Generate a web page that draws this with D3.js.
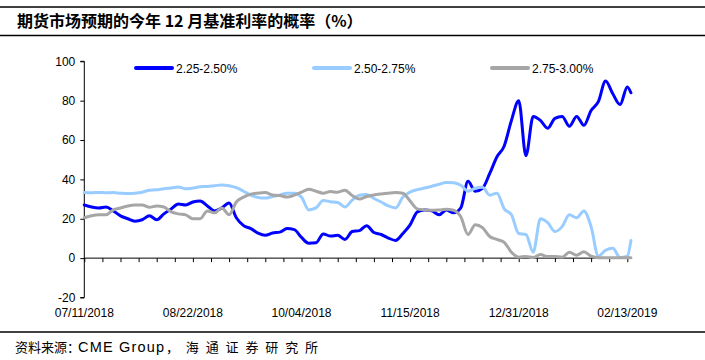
<!DOCTYPE html>
<html><head><meta charset="utf-8">
<script src="https://cdn.jsdelivr.net/npm/d3@7"></script>
<style>
html,body{margin:0;padding:0;background:#fff;}
svg{display:block;}
text{font-family:"Liberation Sans",Arial,sans-serif;}
.cjk{font-family:"Noto Sans CJK SC","Liberation Sans",sans-serif;}
</style></head>
<body>
<svg id="chart" width="705" height="360"></svg>
<script>
// ---- data ----
const title = "期货市场预期的今年 12 月基准利率的概率（%）";
const sourceParts = ["资料来源：", "CME Group", "，海通证券研究所"];
const seriesNames = ["2.25-2.50%", "2.50-2.75%", "2.75-3.00%"];
const xLabels = ["07/11/2018","08/22/2018","10/04/2018","11/15/2018","12/31/2018","02/13/2019"];
const labelEvery = 30;   // trading days between date labels
const tickEvery = 5;     // trading days between tick marks
const lastDay = 151;     // index of last trading day
const sampleStep = 2;    // values sampled every 2 trading days
const yTicks = [-20, 0, 20, 40, 60, 80, 100];

const p225 = [27,26,25.5,26,24,21.5,20,18.8,19.5,21.5,
  19.5,22.5,25,27.5,27,28.5,29,26.5,24,25.5,
  28,20.5,16.5,15,12.7,11.6,12.8,13.2,15,14.5,
  10.5,7.6,7.8,12.3,11.2,11.6,9.5,13.5,14,16.5,
  13,12,10.2,9,12.5,16.9,23.5,24.5,24,22,
  24.5,23,25.5,39,34,35.5,43,51.5,57,70,
  80,52,72,70,66,71,72,67,72,67.5,
  75,79.5,90,83.5,78,87,84];
const p250 = [33.3,33.2,33.4,33.2,33.3,33,32.8,33,33.5,34.5,
  34.7,35.3,35.6,36.2,35.2,35.6,36.3,36.4,36.8,37.2,
  36.8,35.8,34,32,30.8,30.5,31.3,32,33,33,
  31,24.5,25.5,29.3,28.7,28.3,26,29.5,32,32.3,
  30.3,28.5,26.5,25.5,31,33.6,34.8,35.6,36.5,37.5,
  38.4,38.3,37,34,35.5,36,32,33,25,22,
  12.5,12,3,20,18,13.5,16,22,20.5,24,
  16,1,4,5,0.3,1,9];
const p275 = [20.5,21.5,22,22,24.5,25.5,26.5,27,27,25.8,
  26.5,26,23.5,22.5,22,20,20,24,23,25.5,
  22,28.5,31,32.5,33,33.3,32.1,31.8,31,32,
  33.5,35,34,33,33.8,33.5,34.5,31.8,30,31.3,
  32.1,32.6,33,33.3,33,29,25,24.5,24.3,24.5,
  24.8,24.3,21,12,17,15.5,11,9.5,8,3,
  0.5,0.8,0.3,1.8,0.8,0.8,0.5,3,1.5,3.2,
  1,0.2,0.2,0.2,0.2,0.2,0.2];

const colors = ["#0000FF", "#99CCFF", "#A6A6A6"];
const allSeries = [p225, p250, p275];

// ---- chart ----
const svg = d3.select("#chart");
const W = 705, H = 360;
svg.append("rect").attr("width", W).attr("height", H).attr("fill", "#fff");

// frame lines
[7, 35.5, 332].forEach(y => {
  svg.append("line").attr("x1", 0).attr("x2", W).attr("y1", y).attr("y2", y)
    .attr("stroke", "#000").attr("stroke-width", 1.5);
});
svg.append("text").attr("class", "cjk").attr("x", 17).attr("y", 27)
  .attr("font-size", 16).attr("font-weight", "bold").attr("fill", "#000").text(title);

// source note
const srcLayout = [{x: 15, fs: 13, len: null}, {x: 78, fs: 14.5, len: 86}, {x: 166, fs: 13, len: 152}];
sourceParts.forEach((t, i) => {
  const el = svg.append("text").attr("class", i === 1 ? null : "cjk")
    .attr("x", srcLayout[i].x).attr("y", 351.5)
    .attr("font-size", srcLayout[i].fs).attr("fill", "#000").text(t);
  if (srcLayout[i].len) el.attr("textLength", srcLayout[i].len).attr("lengthAdjust", "spacing");
});

const x = d3.scaleLinear().domain([0, 150]).range([84.3, 627.3]);
const y = d3.scaleLinear().domain([-20, 100]).range([297.5, 61.3]);

// y axis
const yAxis = d3.axisLeft(y).tickValues(yTicks).tickSize(4).tickPadding(5).tickFormat(d => String(d));
const gy = svg.append("g").attr("transform", `translate(${x(0)},0)`).call(yAxis);
gy.select(".domain").attr("stroke", "#000").attr("d", `M-4,${y(100)}H0V${y(-20)}H-4`);
gy.selectAll(".tick line").attr("stroke", "#000");
gy.selectAll("text").attr("font-size", 12).attr("font-family", "Liberation Sans, Arial, sans-serif").attr("fill", "#000");

// x axis at zero
const tickDays = d3.range(0, 151, tickEvery);
const xAxis = d3.axisBottom(x).tickValues(tickDays).tickSize(4).tickSizeOuter(0).tickFormat(() => "");
const gx = svg.append("g").attr("transform", `translate(0,${y(0)})`).call(xAxis);
gx.select(".domain").attr("stroke", "#000").attr("d", `M${x(0)},0H${x(lastDay)}`);
gx.selectAll(".tick line").attr("stroke", "#000");

svg.append("g").selectAll("text").data(xLabels).join("text")
  .attr("x", (d, i) => x(i * labelEvery)).attr("y", 317)
  .attr("text-anchor", "middle").attr("font-size", 12).attr("fill", "#000").text(d => d);

// lines
const line = d3.line()
  .x((d, i) => x(Math.min(i * sampleStep, lastDay)))
  .y(d => y(d))
  .curve(d3.curveMonotoneX);
allSeries.forEach((s, k) => {
  svg.append("path").datum(s).attr("d", line).attr("fill", "none")
    .attr("stroke", colors[k]).attr("stroke-width", 3)
    .attr("stroke-linejoin", "round").attr("stroke-linecap", "round");
});

// legend
const legendX = [136, 314, 492];
seriesNames.forEach((n, k) => {
  svg.append("line").attr("x1", legendX[k]).attr("x2", legendX[k] + 36)
    .attr("y1", 68).attr("y2", 68).attr("stroke", colors[k]).attr("stroke-width", 4)
    .attr("stroke-linecap", "round");
  svg.append("text").attr("x", legendX[k] + 40).attr("y", 72.5)
    .attr("font-size", 12).attr("fill", "#000").text(n);
});
</script>
</body></html>
